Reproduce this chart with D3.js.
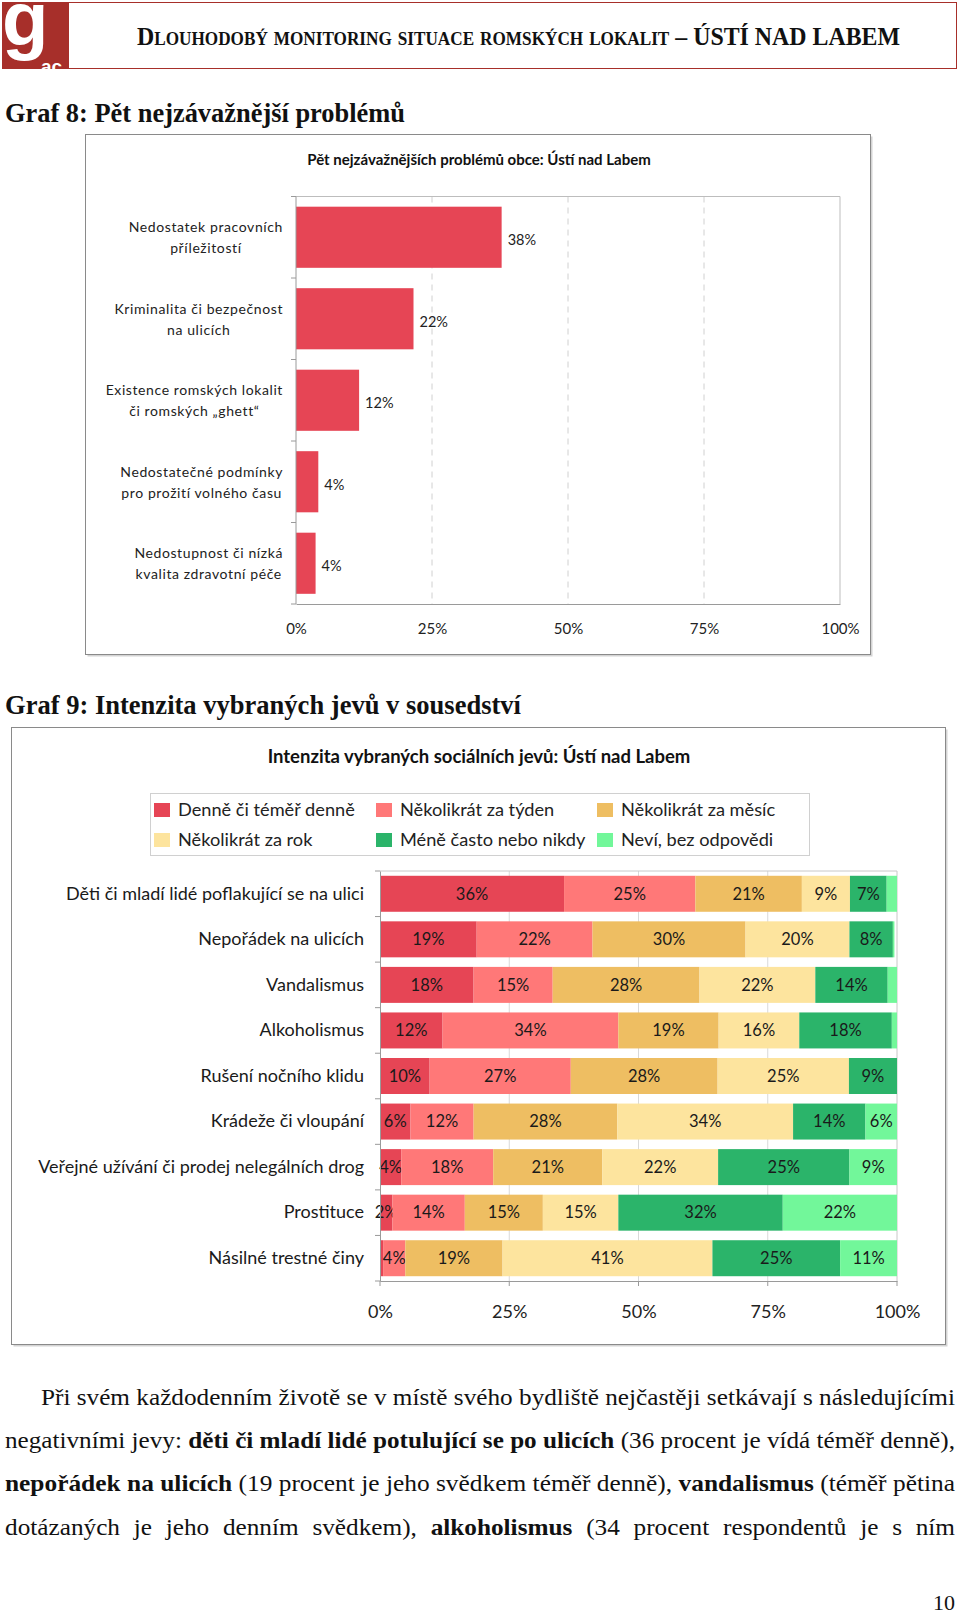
<!DOCTYPE html>
<html><head><meta charset="utf-8">
<script src="https://cdn.jsdelivr.net/npm/d3@7"></script>
<style>
html,body{margin:0;padding:0;background:#fff;}
svg{display:block;}
</style></head>
<body>
<script>
// ---------- DATA ----------
const headerTitle = "Dlouhodobý monitoring situace romských lokalit – ÚSTÍ NAD LABEM";
const graf8Heading = "Graf 8: Pět nejzávažnější problémů";
const graf9Heading = "Graf 9: Intenzita vybraných jevů v sousedství";

const chart1Title = "Pět nejzávažnějších problémů obce: Ústí nad Labem";
const problemCategories = [
  ["Nedostatek pracovních", "příležitostí"],
  ["Kriminalita či bezpečnost", "na ulicích"],
  ["Existence romských lokalit", "či romských „ghett“"],
  ["Nedostatečné podmínky", "pro prožití volného času"],
  ["Nedostupnost či nízká", "kvalita zdravotní péče"]
];
const problemValues = [37.8, 21.6, 11.6, 4.1, 3.6];
const percentTicks = [0, 25, 50, 75, 100];

const chart2Title = "Intenzita vybraných sociálních jevů: Ústí nad Labem";
const phenomena = [
  "Děti či mladí lidé poflakující se na ulici",
  "Nepořádek na ulicích",
  "Vandalismus",
  "Alkoholismus",
  "Rušení nočního klidu",
  "Krádeže či vloupání",
  "Veřejné užívání či prodej nelegálních drog",
  "Prostituce",
  "Násilné trestné činy"
];
const seriesNames = [
  "Denně či téměř denně",
  "Několikrát za týden",
  "Několikrát za měsíc",
  "Několikrát za rok",
  "Méně často nebo nikdy",
  "Neví, bez odpovědi"
];
const daily   = [35.6, 18.7, 18.1, 12.1,  9.6,  5.9,  4.1,  2.4,  0.6];
const weekly  = [25.4, 22.4, 15.3, 34.0, 27.3, 12.2, 17.8, 14.0,  4.3];
const monthly = [20.6, 29.6, 28.4, 19.4, 28.4, 27.8, 21.1, 15.1, 18.8];
const yearly  = [ 9.3, 20.1, 22.4, 15.6, 25.4, 34.0, 22.4, 14.6, 40.6];
const rarely  = [ 7.1,  8.4, 14.0, 17.9,  9.3, 14.0, 25.4, 31.8, 24.7];
const unknown = [ 2.0,  0.3,  1.8,  1.0,  0.0,  6.1,  9.2, 22.1, 11.0];
const seriesColors = ["#e64555", "#ff7878", "#eebe62", "#fde49e", "#2bb46a", "#72f79a"];

const paragraphLines = [
  [{t:"Při svém každodenním životě se v místě svého bydliště nejčastěji setkávají s následujícími", b:false}],
  [{t:"negativními jevy:", b:false}, {t:"děti či mladí lidé potulující se po ulicích", b:true}, {t:"(36 procent je vídá téměř denně),", b:false}],
  [{t:"nepořádek na ulicích", b:true}, {t:"(19 procent je jeho svědkem téměř denně),", b:false}, {t:"vandalismus", b:true}, {t:"(téměř pětina", b:false}],
  [{t:"dotázaných je jeho denním svědkem),", b:false}, {t:"alkoholismus", b:true}, {t:"(34 procent respondentů je s ním", b:false}]
];
const pageNumber = "10";

// ---------- DRAW ----------
const W = 960, H = 1616;
const svg = d3.select("body").append("svg").attr("width", W).attr("height", H);
const chartFont = "Lato, 'Open Sans', sans-serif";
const serif = "'Liberation Serif', 'DejaVu Serif', serif";

// header
const logoColor = "#a72f2a";
svg.append("rect").attr("x", 68.5).attr("y", 2.5).attr("width", 888).attr("height", 66)
  .attr("fill", "none").attr("stroke", logoColor).attr("stroke-width", 1);
svg.append("clipPath").attr("id", "logoClip").append("rect").attr("x", 2).attr("y", 2).attr("width", 66).attr("height", 67);
const logo = svg.append("g").attr("clip-path", "url(#logoClip)");
logo.append("rect").attr("x", 2).attr("y", 2).attr("width", 66).attr("height", 67).attr("fill", logoColor);
logo.append("text").attr("x", 2).attr("y", 45).attr("font-family", "'Liberation Sans', Arial, sans-serif")
  .attr("font-weight", "bold").attr("font-size", 76).attr("fill", "#fff").text("g");
logo.append("text").attr("x", 41).attr("y", 73).attr("font-family", "'Liberation Sans', Arial, sans-serif")
  .attr("font-weight", "bold").attr("font-size", 19).attr("fill", "#fff").text("ac");

svg.append("text").attr("x", 137).attr("y", 45).attr("font-family", serif).attr("font-weight", "bold")
  .attr("font-size", 25).attr("font-variant", "small-caps").attr("fill", "#111")
  .attr("textLength", 763).attr("lengthAdjust", "spacingAndGlyphs").text(headerTitle);

function heading(txt, y, len) {
  svg.append("text").attr("x", 5).attr("y", y).attr("font-family", serif).attr("font-weight", "bold")
    .attr("font-size", 27).attr("fill", "#111").attr("textLength", len)
    .attr("lengthAdjust", "spacingAndGlyphs").text(txt);
}
heading(graf8Heading, 122, 400);
heading(graf9Heading, 714, 516);

function chartBox(x, y, w, h) {
  svg.append("rect").attr("x", x + 2).attr("y", y + 2).attr("width", w).attr("height", h)
    .attr("fill", "#d4d4d4");
  svg.append("rect").attr("x", x).attr("y", y).attr("width", w).attr("height", h)
    .attr("fill", "#fff").attr("stroke", "#8a8a8a").attr("stroke-width", 1);
}

// ---------- Chart 1 ----------
chartBox(85.5, 134.5, 785, 520);
svg.append("text").attr("x", 479).attr("y", 165).attr("text-anchor", "middle")
  .attr("font-family", chartFont).attr("font-weight", "bold").attr("font-size", 15).attr("fill", "#111")
  .text(chart1Title);

const c1 = {x0: 296, x1: 840, y0: 196.5, y1: 604};
const x1s = d3.scaleLinear().domain([0, 100]).range([c1.x0, c1.x1]);
const y1s = d3.scaleBand().domain(problemCategories.map((d, i) => i)).range([c1.y0, c1.y1])
  .paddingInner(0.25).paddingOuter(0.125);
const g1 = svg.append("g");
g1.selectAll("line.grid").data(percentTicks.filter(t => t > 0 && t < 100)).join("line")
  .attr("x1", d => x1s(d)).attr("x2", d => x1s(d)).attr("y1", c1.y0).attr("y2", c1.y1)
  .attr("stroke", "#d0d0d0").attr("stroke-dasharray", "6,5");
g1.append("line").attr("x1", c1.x0).attr("x2", c1.x1).attr("y1", c1.y0).attr("y2", c1.y0).attr("stroke", "#bdbdbd");
g1.append("line").attr("x1", c1.x1).attr("x2", c1.x1).attr("y1", c1.y0).attr("y2", c1.y1).attr("stroke", "#bdbdbd");
g1.selectAll("rect.bar").data(problemValues).join("rect")
  .attr("x", x1s(0)).attr("y", (d, i) => y1s(i)).attr("width", d => x1s(d) - x1s(0))
  .attr("height", y1s.bandwidth()).attr("fill", seriesColors[0]);
g1.selectAll("text.val").data(problemValues).join("text")
  .attr("x", d => x1s(d) + 6).attr("y", (d, i) => y1s(i) + y1s.bandwidth() / 2 + 3)
  .attr("dy", "0.35em").attr("font-family", chartFont).attr("font-size", 14.5).attr("fill", "#222")
  .text(d => Math.round(d) + "%");
const ax1 = g1.append("g").attr("transform", `translate(0,${c1.y1})`)
  .call(d3.axisBottom(x1s).tickValues(percentTicks).tickSize(0).tickPadding(19).tickFormat(d => d + "%"));
ax1.select(".domain").attr("stroke", "#9a9a9a");
ax1.selectAll("text").attr("font-family", chartFont).attr("font-size", 15).attr("fill", "#222");
const bounds1 = d3.range(problemCategories.length + 1).map(i => c1.y0 + (c1.y1 - c1.y0) * i / problemCategories.length);
g1.append("line").attr("x1", c1.x0).attr("x2", c1.x0).attr("y1", c1.y0).attr("y2", c1.y1).attr("stroke", "#9a9a9a");
g1.selectAll("line.tk").data(bounds1).join("line").attr("x1", c1.x0 - 5).attr("x2", c1.x0)
  .attr("y1", d => d).attr("y2", d => d).attr("stroke", "#9a9a9a");
problemCategories.forEach((lines, i) => {
  const cy = y1s(i) + y1s.bandwidth() / 2;
  const t = g1.append("text").attr("text-anchor", "middle").attr("font-family", chartFont)
    .attr("font-size", 14).attr("letter-spacing", 0.6).attr("fill", "#222");
  const spans = lines.map((ln, k) => t.append("tspan").attr("y", cy + (k === 0 ? -10 : 11)).attr("dy", "0.35em").text(ln));
  const maxW = d3.max(spans, s => s.node().getComputedTextLength());
  spans.forEach(s => s.attr("x", 283 - maxW / 2));
});

// ---------- Chart 2 ----------
chartBox(11.5, 727.5, 934, 617);
svg.append("text").attr("x", 479).attr("y", 763).attr("text-anchor", "middle")
  .attr("font-family", chartFont).attr("font-weight", "bold").attr("font-size", 18.5).attr("fill", "#111")
  .text(chart2Title);

svg.append("rect").attr("x", 150.5).attr("y", 793.5).attr("width", 659).attr("height", 62)
  .attr("fill", "#fff").attr("stroke", "#d0d0d0");
const legX = [154, 376, 597];
const legY = [810, 840];
const leg = svg.append("g").selectAll("g").data(seriesNames).join("g")
  .attr("transform", (d, i) => `translate(${legX[i % 3]},${legY[Math.floor(i / 3)]})`);
leg.append("rect").attr("x", 0).attr("y", -7).attr("width", 16).attr("height", 14)
  .attr("fill", (d, i) => seriesColors[i]);
leg.append("text").attr("x", 24).attr("y", 0).attr("dy", "0.35em").attr("font-family", chartFont)
  .attr("font-size", 18.2).attr("fill", "#222").text(d => d);

const c2 = {x0: 380, x1: 897, y0: 871, y1: 1281};
const x2s = d3.scaleLinear().domain([0, 100]).range([c2.x0, c2.x1]);
const y2s = d3.scaleBand().domain(phenomena).range([c2.y0, c2.y1]).paddingInner(0.21).paddingOuter(0.105);
const g2 = svg.append("g");
g2.selectAll("line.grid").data(percentTicks.filter(t => t > 0 && t < 100)).join("line")
  .attr("x1", d => x2s(d)).attr("x2", d => x2s(d)).attr("y1", c2.y0).attr("y2", c2.y1)
  .attr("stroke", "#d9d9d9");
g2.append("line").attr("x1", c2.x0).attr("x2", c2.x1).attr("y1", c2.y0).attr("y2", c2.y0).attr("stroke", "#c8c8c8");
g2.append("line").attr("x1", c2.x1).attr("x2", c2.x1).attr("y1", c2.y0).attr("y2", c2.y1).attr("stroke", "#c8c8c8");

const table = phenomena.map((p, i) => {
  const row = {name: p};
  [daily, weekly, monthly, yearly, rarely, unknown].forEach((arr, k) => row[seriesNames[k]] = arr[i]);
  return row;
});
const stacked = d3.stack().keys(seriesNames)(table);
const layers = g2.selectAll("g.layer").data(stacked).join("g").attr("fill", (d, i) => seriesColors[i]);
layers.selectAll("rect").data(d => d).join("rect")
  .attr("x", d => x2s(d[0])).attr("y", d => y2s(d.data.name))
  .attr("width", d => Math.max(0, x2s(d[1]) - x2s(d[0]))).attr("height", y2s.bandwidth());
layers.selectAll("text").data(d => d.filter(s => s[1] - s[0] >= 2.2)).join("text")
  .attr("x", d => (x2s(d[0]) + x2s(d[1])) / 2).attr("y", d => y2s(d.data.name) + y2s.bandwidth() / 2)
  .attr("dy", "0.35em").attr("text-anchor", "middle").attr("font-family", chartFont)
  .attr("font-size", 16.5).attr("fill", "#1a1a1a").text(d => Math.round(d[1] - d[0]) + "%");

const ax2 = g2.append("g").attr("transform", `translate(0,${c2.y1})`)
  .call(d3.axisBottom(x2s).tickValues(percentTicks).tickSize(0).tickPadding(24).tickFormat(d => d + "%"));
ax2.select(".domain").attr("stroke", "#9a9a9a");
ax2.selectAll("text").attr("font-family", chartFont).attr("font-size", 18).attr("fill", "#222");
g2.selectAll("line.btk").data(percentTicks).join("line").attr("x1", d => x2s(d)).attr("x2", d => x2s(d))
  .attr("y1", c2.y1).attr("y2", c2.y1 + 5).attr("stroke", "#9a9a9a");
const ay2 = g2.append("g").attr("transform", `translate(${c2.x0},0)`)
  .call(d3.axisLeft(y2s).tickSize(0).tickPadding(16));
ay2.select(".domain").attr("stroke", "#9a9a9a");
ay2.selectAll("text").attr("font-family", chartFont).attr("font-size", 18).attr("fill", "#1a1a1a");
const bounds2 = d3.range(phenomena.length + 1).map(i => c2.y0 + (c2.y1 - c2.y0) * i / phenomena.length);
g2.selectAll("line.ltk").data(bounds2).join("line").attr("x1", c2.x0 - 5).attr("x2", c2.x0)
  .attr("y1", d => d).attr("y2", d => d).attr("stroke", "#9a9a9a");

// ---------- paragraph ----------
const pFont = 24, pBase = [1405, 1448, 1491, 1535], pLeft = [41, 5, 5, 5], pRight = 955;
const pGroups = paragraphLines.map((segs, li) => {
  const words = [];
  segs.forEach(s => s.t.split(" ").forEach(w => words.push({t: w, b: s.b})));
  const grp = svg.append("g");
  const nodes = words.map(w => grp.append("text").attr("y", pBase[li]).attr("font-family", serif)
    .attr("font-size", pFont).attr("font-weight", w.b ? "bold" : "normal").attr("fill", "#111").text(w.t));
  const widths = nodes.map(n => n.node().getComputedTextLength());
  return {li, grp, nodes, widths, sum: d3.sum(widths), avail: pRight - pLeft[li]};
});
const baseGap = pFont * 0.25;
const ks = pGroups.slice(0, 3).map(p => p.avail / (p.sum + baseGap * (p.nodes.length - 1)));
const kLast = d3.mean(ks);
pGroups.forEach((p, i) => {
  const k = i < 3 ? ks[i] : kLast;
  const gap = i < 3 ? baseGap : (p.avail / k - p.sum) / (p.nodes.length - 1);
  let x = 0;
  p.nodes.forEach((n, j) => { n.attr("x", x); x += p.widths[j] + gap; });
  p.grp.attr("transform", `translate(${pLeft[p.li]},0) scale(${k},1)`);
});
svg.append("text").attr("x", 955).attr("y", 1610).attr("text-anchor", "end").attr("font-family", serif)
  .attr("font-size", 22).attr("fill", "#111").text(pageNumber);
</script>
</body></html>
